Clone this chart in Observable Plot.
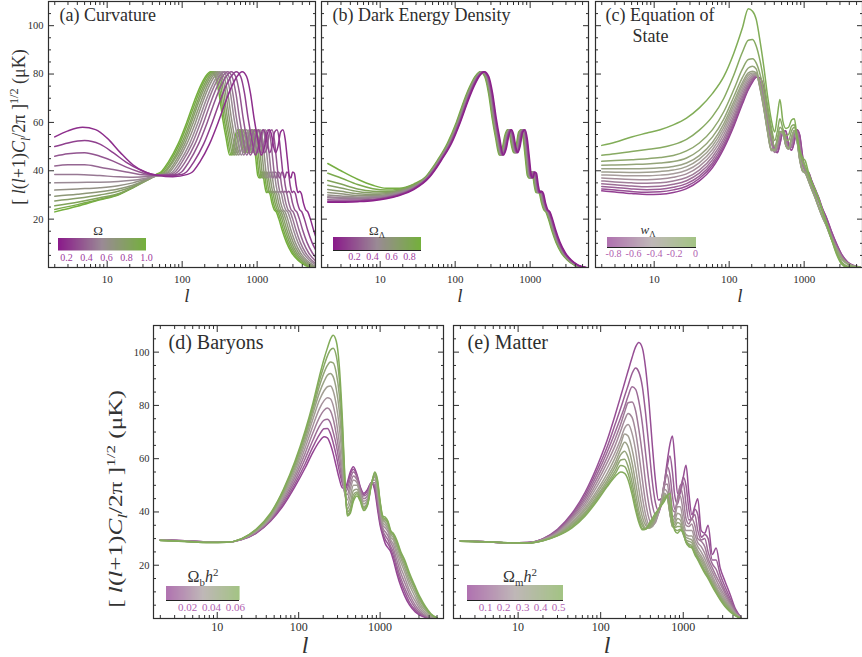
<!DOCTYPE html>
<html>
<head>
<meta charset="utf-8">
<script src="https://cdn.jsdelivr.net/npm/d3@7"></script>
<script src="https://cdn.jsdelivr.net/npm/@observablehq/plot@0.6"></script>
<style>
  html, body { margin: 0; padding: 0; background: #fff; }
  #root { position: relative; width: 862px; height: 657px; overflow: hidden; background: #fff;
          font-family: "Liberation Serif", "DejaVu Serif", "Noto Serif", Tinos, Times, serif; color: #333; }
  .abs { position: absolute; }
  .leg line { display: none; }
  .lab { position: absolute; white-space: nowrap; line-height: 1; transform: translate(-50%, -50%); }
  .rot { transform: translate(-50%, -50%) rotate(-90deg); }
  .rot2 { transform: translate(-50%, -50%) rotate(-90deg) scaleX(1.4); }
  .lab sub, .lab sup { font-size: 0.68em; line-height: 0; }
</style>
</head>
<body>
<div id="root"></div>
<script>
// ---------------- axis ticks / labels ----------------
const xMajor = [10, 100, 1000];
const xMajorLabels = ["10", "100", "1000"];
const xMinor = [2,3,4,5,6,7,8,9,20,30,40,50,60,70,80,90,200,300,400,500,600,700,800,900,2000,3000,4000,5000];
const yMajor = [20, 40, 60, 80, 100];
const yMajorLabels = ["20", "40", "60", "80", "100"];
const yMinor = [5,10,15,25,30,35,45,50,55,65,70,75,85,90,95,105];

// ---------------- (a) Curvature ----------------
const omegaA = [1.0, 0.93, 0.85, 0.78, 0.71, 0.64, 0.56, 0.49, 0.42, 0.35, 0.27, 0.2];
const lowA = [
  [[2,23],[4,25.3],[8,28],[14,30],[22,33],[35,37]],
  [[2,24],[4,26],[8,28.2],[14,30.2],[22,33],[35,36.5]],
  [[2,25.5],[4,27],[8,28.8],[14,30.5],[22,33],[35,36.2],[42,37.6]],
  [[2,27.5],[4,28.6],[8,30],[14,31.5],[22,33.5],[35,36.3],[44,37.8]],
  [[2,29.5],[4,30.3],[8,31.3],[14,32.5],[22,34],[35,36.5],[45,37.8]],
  [[2,32],[4,32.5],[8,33],[14,33.8],[22,35],[35,36.8],[45,37.8]],
  [[2,35],[4,35.2],[8,35.3],[14,35.6],[22,36.1],[35,37],[48,38]],
  [[2,38.5],[4,38.5],[8,38],[14,37.5],[22,37.3],[35,37.6],[50,38.2]],
  [[2,42],[3,42.5],[5,42.5],[8,41.5],[12,40.5],[18,39.5],[27,38.5],[40,38.2],[55,38.4]],
  [[2,46],[3,47],[5,47.5],[8,46],[12,44],[18,41.5],[27,39.5],[40,38.3],[60,38.3]],
  [[2,50],[3,51.5],[5,52.5],[8,51],[12,47.5],[18,43.5],[27,40.5],[40,38.5],[60,38]],
  [[2,54],[3,56.5],[4.7,58],[7,57],[10,53.5],[15,47.5],[22,42.5],[32,39.5],[48,38],[75,37.5]]
];
const highVA = [38.5,39.5,43.5,51,60,69,75,79,81,79,72,62,53.5,46.5,49,54.5,57,55,50,47.5,50,56,57,53,45,38,37,39.5,39,34,31,31.5,30.5,26.5,24,23,20,15.5,10.5,6,3,1,0];
const highLA = [
  [45,52,65,88,115,146,175,205,240,275,310,345,385,430,470,510,550,590,630,670,720,780,840,900,960,1020,1070,1130,1190,1260,1330,1400,1480,1580,1680,1800,1950,2150,2450,2900,3500,4300,5500],
  [47,54,68,92,120,153,183,214,251,287,324,361,402,449,491,533,575,617,658,700,752,815,878,941,1003,1066,1118,1181,1244,1317,1390,1463,1547,1651,1756,1881,2038,2247,2560,3031,3658,4494,5748],
  [50,57,72,97,127,161,193,226,264,303,341,380,424,473,517,561,605,649,693,737,792,858,924,990,1056,1122,1177,1243,1309,1386,1463,1540,1628,1738,1848,1980,2145,2365,2695,3190,3850,4730,6050],
  [52,60,75,102,133,169,203,238,278,319,360,400,447,499,545,592,638,684,731,777,835,905,974,1044,1114,1183,1241,1311,1380,1462,1543,1624,1717,1833,1949,2088,2262,2494,2842,3364,4060,4988,6380],
  [55,64,80,108,141,180,215,252,295,338,381,424,474,529,578,627,677,726,775,824,886,959,1033,1107,1181,1255,1316,1390,1464,1550,1636,1722,1820,1943,2066,2214,2399,2645,3014,3567,4305,5289,6765],
  [59,68,85,115,151,191,229,269,314,360,406,452,504,563,616,668,721,773,825,878,943,1022,1100,1179,1258,1336,1402,1480,1559,1651,1742,1834,1939,2070,2201,2358,2555,2817,3210,3799,4585,5633,7205],
  [64,74,92,125,163,207,249,291,341,391,440,490,547,611,667,724,781,838,895,951,1022,1108,1193,1278,1363,1448,1519,1605,1690,1789,1889,1988,2102,2244,2386,2556,2769,3053,3479,4118,4970,6106],
  [69,80,99,135,176,223,268,314,367,421,474,528,589,658,719,780,842,903,964,1025,1102,1193,1285,1377,1469,1561,1637,1729,1821,1928,2035,2142,2264,2417,2570,2754,2984,3290,3749,4437,5355,6579],
  [76,87,109,148,193,245,294,344,403,462,521,580,647,722,790,857,924,991,1058,1126,1210,1310,1411,1512,1613,1714,1798,1898,1999,2117,2234,2352,2486,2654,2822,3024,3276,3612,4116,4872,5880,7224],
  [85,98,122,165,216,274,329,385,451,517,583,649,724,808,884,959,1034,1109,1184,1260,1354,1466,1579,1692,1805,1918,2012,2124,2237,2369,2500,2632,2782,2970,3158,3384,3666,4042,4606,5452,6580],
  [99,114,142,193,252,320,383,449,526,602,679,756,843,942,1029,1117,1205,1292,1380,1467,1577,1708,1840,1971,2102,2234,2343,2475,2606,2759,2913,3066,3241,3460,3679,3942,4271,4709,5366,6351],
  [118,137,171,231,302,384,460,539,631,723,815,907,1013,1131,1236,1341,1447,1552,1657,1762,1894,2051,2209,2367,2525,2683,2814,2972,3130,3314,3498,3682,3892,4155,4418,4734,5129,5655,6444,7627]
];
const legendA = {domain: [0.12, 0.56, 1.0], ticks: [0.2,0.4,0.6,0.8,1.0], labels: ["0.2","0.4","0.6","0.8","1.0"]};

// ---------------- (b) Dark energy density ----------------
const omegaLB = [0.9, 0.84, 0.77, 0.7, 0.64, 0.58, 0.51, 0.45, 0.39, 0.26, 0.13, 0];
const lowB = [
  [[2,43],[3,40],[5,36.5],[8,34],[12,32.8],[18,32.8],[28,34.5]],
  [[2,39],[3,37],[5,34.3],[8,32.6],[12,32],[18,32.4],[28,34.2]],
  [[2,36],[3,34.5],[5,32.5],[8,31.5],[12,31.3],[18,32],[28,34]],
  [[2,34],[3,32.9],[5,31.4],[8,30.8],[12,30.9],[18,31.7],[28,33.7]],
  [[2,32.3],[3,31.5],[5,30.5],[8,30.2],[12,30.5],[18,31.5],[28,33.5]],
  [[2,31],[3,30.5],[5,29.8],[8,29.7],[12,30.1],[18,31.2],[28,33.3]],
  [[2,30],[3,29.6],[5,29.2],[8,29.3],[12,29.8],[18,31],[28,33.2]],
  [[2,29.3],[3,29],[5,28.8],[8,29],[12,29.5],[18,30.8],[28,33.1]],
  [[2,28.8],[3,28.6],[5,28.4],[8,28.7],[12,29.3],[18,30.6],[28,33]],
  [[2,28],[3,27.9],[5,27.9],[8,28.2],[12,29],[18,30.3],[28,32.7]],
  [[2,27.4],[3,27.4],[5,27.5],[8,27.9],[12,28.7],[18,30],[28,32.5]],
  [[2,27],[3,27],[5,27.2],[8,27.6],[12,28.4],[18,29.8],[28,32.2]]
];
const highVB = [37.5,40,44.5,51.5,60,69,75,79,81,79,72,62,53.5,46.5,49,54.5,57,55,50,47.5,50,56,57,53,45,38,37,39.5,39,34,31,31.5,30.5,26.5,24,23,20,15.5,10.5,6,3,1,0];
const highLB = [
  [40.5,46.8,58.5,79,103.5,131,157.5,184.5,216,247.5,279,310.5,346.5,387,423,459,495,531,567,603,648,702,756,810,864,918,963,1017,1071,1134,1197,1260,1332,1422,1512,1620,1755,1935,2205,2610,3150,3870,4950],
  [41.4,47.8,59.8,81,106,134,161,189,221,253,285,317,354,396,432,469,506,543,580,616,662,718,773,828,883,938,984,1040,1095,1159,1224,1288,1362,1454,1546,1656,1794,1978,2254,2668,3220,3956,5060],
  [42.3,48.9,61,82.7,108,137,164.5,193,226,259,291,324,362,404,442,479,517,555,592,630,677,733,790,846,902,959,1006,1062,1119,1184,1250,1316,1391,1485,1579,1692,1833,2021,2303,2726,3290,4042,5170],
  [43,49.7,62,84,110,139,167,196,229,263,296,329,368,411,449,487,525,563,602,640,688,745,802,860,917,974,1022,1079,1136,1203,1270,1337,1413,1509,1604,1719,1862,2053,2340,2770,3343,4107,5253],
  [43.7,50.4,63,85.4,112,142,170,199,233,267,301,335,373,417,456,495,534,572,611,650,698,757,815,873,931,989,1038,1096,1154,1222,1290,1358,1436,1533,1630,1746,1892,2086,2377,2813,3395,4171,5335],
  [44.3,51.2,64,86.7,113,144,172,202,236,271,305,340,379,424,463,502,542,581,621,660,709,768,827,887,946,1005,1054,1113,1172,1241,1310,1379,1458,1556,1655,1773,1921,2118,2413,2857,3448,4236,5418],
  [45,52,65,88,115,146,175,205,240,275,310,345,385,430,470,510,550,590,630,670,720,780,840,900,960,1020,1070,1130,1190,1260,1330,1400,1480,1580,1680,1800,1950,2150,2450,2900,3500,4300,5500],
  [46,53,66,90,117,149,179,209,245,281,316,352,393,439,479,520,561,602,643,683,734,796,857,918,979,1040,1091,1153,1214,1285,1357,1428,1510,1612,1714,1836,1989,2193,2499,2958,3570,4386,5610]
];
const highIdxB = [0, 1, 1, 2, 2, 3, 3, 4, 4, 5, 6, 7];
const legendB = {domain: [-0.03, 0.45, 0.93], ticks: [0.2,0.4,0.6,0.8], labels: ["0.2","0.4","0.6","0.8"]};

// ---------------- (c) Equation of state ----------------
const wC = [-0.84,-0.77,-0.70,-0.63,-0.56,-0.49,-0.42,-0.35,-0.28,-0.21,-0.14,-0.07,0];
const gridC = [2,3,5,8,12,18,27,40,60,85,115,150,180,205,230,260,290,325,365,405,440,475,520,570,620,680,740,800,870,950,1040,1140,1260,1400,1560,1750,2000,2300,2700,3200,3800,4600,5600];
const valsC = [
  [31.7,31.2,30.6,30.2,30.3,31,32.6,35.8,41.3,49.2,58.3,67.6,73.5,76.7,78.7,78.5,74,65.5,56,48.5,47.5,51,56,56.5,51,48.5,52,57,55,46.5,40,39.5,36,32.5,29,24.5,20.4,15.2,9.9,5.2,2.3,0.8,0.1],
  [32.5,32,31.4,31.1,31.3,32.1,33.6,36.8,42.3,50,59.2,68.4,74,77.1,78.8,78.3,73.6,65.2,55.8,48.6,47.6,51.3,56,56.3,50.6,48.6,52.4,57,54.6,46,39.9,39.3,35.8,32.3,28.8,24.4,20.2,15,9.7,5,2.2,0.7,0.1],
  [33.5,33.1,32.5,32.2,32.4,33.2,34.7,37.8,43.3,51,60.2,69.3,74.7,77.6,79,76.4,70.5,61,52.5,47.8,49.5,54,56.5,53.5,49.3,50,55.5,56.2,51,43,39.7,37.8,34.5,31,27.5,23.5,18.5,13.5,8.5,4.3,1.8,0.6,0.05],
  [34.6,34.2,33.7,33.4,33.6,34.4,35.9,39,44.5,52.2,61.3,70.3,75.5,78.2,79.3,76.5,70.8,61.5,52.8,47.9,49.3,53.8,56.4,53.8,49.4,49.8,55.2,56.4,51.4,43.4,39.8,38,34.7,31.2,27.7,23.6,18.7,13.7,8.7,4.5,1.9,0.6,0.05],
  [35.8,35.4,35,34.8,35,35.8,37.2,40.3,45.8,53.5,62.5,71.5,76.5,78.8,79.5,76,69.8,60.3,51.8,47.6,49.8,54.4,56.6,53.2,49.2,50.3,55.8,56,50.6,42.6,39.6,37.6,34.3,30.8,27.3,23.3,18.3,13.3,8.3,4.1,1.7,0.5,0],
  [37,36.7,36.4,36.3,36.6,37.3,38.7,41.8,47.3,55,64,72.8,77.5,79.3,79.7,74.5,66.5,57,48.8,48.3,52.3,56,55.6,50.7,49,53.3,56.6,53.3,45.3,40.2,39.1,36.2,32.6,29.1,25.1,21.1,17.1,12.1,7.6,3.6,1.5,0.5,0],
  [38.3,38.1,37.9,37.9,38.2,38.8,40.2,43.3,48.8,56.5,65.5,74,78.5,79.8,79.8,74,66,56.5,48.5,48.5,52.5,56,55.5,50.5,49,53.5,56.5,53,45,40,39,36,32.5,29,25,21,17,12,7.5,3.5,1.5,0.5,0],
  [39.5,39.4,39.3,39.4,39.7,40.3,41.7,44.8,50.3,58,67,75.3,79.5,80.4,80,73.5,65.5,56,48.3,48.7,52.8,56.1,55.3,50.3,49.1,53.8,56.4,52.6,44.6,39.9,38.8,35.8,32.3,28.8,24.8,20.8,16.8,11.8,7.3,3.4,1.4,0.4,0],
  [40.8,40.8,40.8,40.9,41.2,41.8,43.2,46.3,51.8,59.5,68.5,76.5,80.5,81.2,80.5,73.8,65.8,56.3,48.6,48.4,52.4,56,55.6,50.6,49,53.4,56.5,53.1,45.1,40.1,39,36.1,32.5,29,25,21,17,12,7.5,3.5,1.5,0.5,0],
  [42.3,42.4,42.6,42.8,43.2,43.8,45.3,48.5,54,61.5,70.5,78.5,82.5,83.2,82,74.5,66.5,57,49,48.6,52.6,56.2,55.8,50.8,49.2,53.6,56.7,53.2,45.4,40.3,39.2,36.3,32.7,29.2,25.2,21.2,17.2,12.2,7.7,3.7,1.6,0.5,0],
  [43.9,44.2,44.6,45,45.5,46.3,48.2,51.5,57,64.5,73.5,82,86,86.3,84.5,79.5,72.5,63.5,55,50,53.5,58,56.5,53,52.5,56.5,58,54.5,48,44,41,38.5,35,32,28.3,23.5,18.3,12.5,6.5,2.2,0.5,0,0],
  [46.4,47,48,48.8,49.5,50.8,53,56.8,62.5,70,79.5,89,94,94.3,91.5,85,77,67,58,52.5,56.5,61.5,57.5,54.5,55,58.5,59,54,48,44.5,42,38.5,35,32,28.3,23.5,18,12,6,1.8,0.3,0,0],
  [50.5,51.8,54,55.6,57,59,61.8,66,72,79,88.5,99,107,106,102.5,93,83,71,61,56,63,69.5,60.5,57.5,58,61,61.5,54.5,48.5,45.5,44,39.5,35.5,32,28.3,23.5,18,12,5.5,1.2,0,0,0]
];
const legendC = {domain: [-0.855, -0.4225, 0.01], ticks: [-0.8,-0.6,-0.4,-0.2,0], labels: ["-0.8","-0.6","-0.4","-0.2","0"]};

// ---------------- (d) Baryons ----------------
const bD = [0.005,0.011,0.018,0.024,0.030,0.037,0.043,0.049,0.056,0.062];
const gridD = [2,4,8,13,20,30,45,65,90,120,150,180,205,225,245,265,290,315,345,370,395,430,470,520,570,630,700,780,860,930,1000,1080,1160,1250,1350,1450,1600,1800,2000,2300,2700,3100,3600,4200,5000];
const valsD = [
  [29.6,29.2,28.7,28.6,29.6,32,36.5,42.5,49.5,56.5,62.5,66.5,68.2,67.8,65.5,62,57,52.5,49,49,51,55,57,54,49.5,47,48.5,51,48,41,35,31,28,26.5,25,22,17,12,8.5,5,2.5,1.2,0.4,0,0],
  [29.6,29.2,28.7,28.6,29.6,32.1,36.8,43.2,50.5,58,64.5,69,71.2,71.3,69.5,66,61,55.5,50.5,48.5,50,54,56,53.5,49,46.5,48,51,49,42.5,36,32,29.5,28,26,23.5,18.5,13.5,10,6,3.2,1.6,0.6,0.1,0],
  [29.5,29.1,28.7,28.6,29.7,32.3,37.1,44,51.7,60,67,72.2,74.5,74.8,73.5,70,65,58.5,51.5,47.5,48.5,52.5,55,53,48.5,46,47,51,50,44,37.5,33,31,29.5,27,25,20,15,11.5,7.5,4,2,0.8,0.2,0],
  [29.5,29.1,28.6,28.6,29.7,32.5,37.4,44.8,53,62,69.8,75.5,78.2,79,78,75,69,62,53,47,46.5,50.5,53.5,52,48,45,46,51,51,45.5,39,34,32.5,31,28.5,26.5,22,17,13.5,9,5,2.6,1.1,0.3,0],
  [29.5,29.1,28.6,28.6,29.8,32.7,37.7,45.6,54.2,64,72.5,78.8,81.8,82.9,82.5,80,74,66,55,46.5,44.5,48.5,52,51,47,44,45,51,52,47,40.5,35,34,32.5,29.5,28,24,19,15.5,10.5,6.5,3.5,1.6,0.5,0],
  [29.4,29,28.6,28.6,29.8,32.9,38,46.4,55.5,65.8,75,82,85.5,87,87.3,85.5,80,72,59,47,42.5,46,50,50,46.5,43,44.5,50.5,53,48.5,41.5,36,35,33.5,30.5,29.5,25.5,21,17.5,12.5,8,4.5,2.2,0.8,0],
  [29.4,29,28.6,28.6,29.9,33.1,38.5,47,56.5,67.3,77,84.8,89,91.3,92,90.8,86,78,63,48.5,41,43.5,48,48.5,45.5,42,43.5,50.5,53.5,49.5,42.5,37,36,34.5,31.5,30.5,27,22.5,19,14,9.5,5.5,3,1.1,0.1],
  [29.4,29,28.5,28.6,29.9,33.2,38.8,47.6,57.5,68.5,78.5,87.3,92.3,95,96.3,96,92,84,67,50,40,41.5,46.5,47.5,45,41.5,43,50.5,54,50.5,43,37.5,36.8,35.5,32,31.2,28,23.5,20.3,15.3,10.7,6.6,3.6,1.4,0.2],
  [29.3,28.9,28.5,28.6,30,33.4,39.2,48.1,58.3,69.5,79.8,89.3,95,98.5,100.8,101.5,98.5,90,71,51,39,40.3,45,46.8,44.5,41,42.8,50.2,54.5,51.3,43.5,38,37.4,36,32.5,31.6,28.8,24.3,21.2,16.2,11.4,7.3,4.1,1.6,0.25],
  [29.3,28.9,28.5,28.6,30,33.5,39.5,48.5,59,70.5,81,91,97.5,101.5,104.8,106.3,104,95,74,52,38.5,39.5,44,46,44,40.5,42.5,50,55,52,44,38.5,38,36.5,33,32,29.5,25,22,17,12,8,4.5,1.8,0.3]
];
const legendD = {domain: [0.0026, 0.0331, 0.0636], ticks: [0.02,0.04,0.06], labels: ["0.02","0.04","0.06"]};

// ---------------- (e) Matter ----------------
const mE = [0.05,0.09,0.13,0.17,0.21,0.25,0.30,0.34,0.38,0.42,0.46,0.50];
const gridE = [2,4,8,13,20,30,45,65,90,120,150,175,195,215,240,265,290,320,350,385,420,460,500,545,590,640,690,740,790,850,920,1000,1080,1170,1270,1380,1500,1650,1820,2000,2250,2500,2800,3200,3700,4300,5000];
const valsE = [
  [29.2,28.8,28.4,28.5,30,33.5,39.5,47.5,57,67,76.5,83.5,88.5,93,98,102,103.6,101.5,94,81,66,52,44.5,45,51,59,65.5,68.5,60,47,47,53,57.5,47,39,42,45,33,32,35,24,26.5,19,14,9,3.5,0.5],
  [29.2,28.8,28.4,28.5,29.9,33.2,39,46.5,55.5,64.5,73,79,83.5,87.5,92,94,92.5,87,77,64,52,43.5,40.5,43,49.5,57,61,55,46,43,47.5,53,50,41,37,41,39,30.5,31.5,30,22,22,16.5,12,7.5,3,0.4],
  [29.2,28.8,28.4,28.5,29.8,32.9,38.5,45.5,54,62.5,70,75.5,79.5,83.5,87,86,81.5,73,62,51,43,39,39.5,43.5,50.5,57,54,46,41,44,50,51,43,37,37.5,39,33,29.5,30,25,20.5,18.5,14.5,10.5,6.5,2.6,0.3],
  [29.2,28.8,28.4,28.4,29.7,32.6,38,44.5,52.5,60.5,67.5,73,77.5,81,81.3,78,71,61.5,51,42.5,37.5,37,39.5,44.5,51,54,48,41,40,45,49.5,45,37.5,35.5,37.5,35,30,29,27,22.5,19,16,13,9.5,5.8,2.3,0.3],
  [29.2,28.8,28.4,28.4,29.6,32.3,37.5,43.5,51,58.5,65,70.5,74.5,77,75.5,70,62,52,43.5,37.5,35,36,39.5,44.5,50,50.5,43.5,38,39,44,46,40,35,34.5,35.5,31.5,28.5,27,24.5,21,17.5,14.5,11.5,8.5,5.2,2,0.2],
  [29.1,28.8,28.4,28.4,29.6,32,37,42.5,49.5,56.5,62.5,67.5,71.5,72.8,69.5,63,54.5,45.5,39,35,34.5,36.5,40,44.5,48.5,47.5,40.5,36.5,38,42,42,36.5,33,33,33,29.5,27,25,22.5,19.5,16,13,10.5,7.5,4.6,1.8,0.2],
  [29.1,28.8,28.4,28.4,29.5,31.8,36.3,41.6,48,54.5,60.5,65.5,69.3,68.5,63.5,56.5,48.5,41,36.5,34,34.5,37,40.3,44,47,45.5,39.5,35.5,36.5,39.5,39,34.5,31.5,31,31,28,25.5,23.5,21,18,15,12,9.5,6.8,4.1,1.6,0.1],
  [29.1,28.8,28.4,28.4,29.4,31.6,35.8,40.8,47,53,58.5,63.5,66.2,64.5,58.5,51,44,38,35,34,35,37.5,40.5,43.5,46.5,45.5,39.5,35,35.5,37.5,37,33,30.5,30,29.5,27,24.5,22.5,20,17,14,11.3,8.8,6.2,3.8,1.5,0.1],
  [29.1,28.8,28.4,28.4,29.4,31.4,35.3,40,46,51.8,57,61.5,62.8,60.5,54.5,47,40.5,36,34,34,35.3,37.8,40.7,43.3,46,45.8,39.5,34.5,34.5,36,35.5,32,29.5,29,28.5,26,23.5,21.5,19,16.5,13.5,10.8,8.3,5.8,3.5,1.4,0.1],
  [29,28.8,28.4,28.3,29.3,31.3,34.9,39.5,45.3,50.8,55.5,59.5,59.8,57,51,44,38.5,34.8,33.7,34.3,36,38.3,40.8,43,45.3,46,40,34.5,34,34.5,34.5,31.5,29,28,27.5,25,23,20.5,18,16,13,10.3,7.8,5.3,3.1,1.2,0],
  [29,28.8,28.4,28.3,29.2,31.1,34.4,39,44.6,50,54.3,57.4,57,54.3,48.5,42,37,33.8,33.5,34.8,36.7,38.8,40.8,42.8,44.7,46.3,42,35.5,33.5,33,33.5,32,28.7,27.5,27,24.5,22.5,20,17.5,15.5,12.5,9.9,7.4,4.9,2.8,1.1,0],
  [29,28.8,28.4,28.3,29.2,31,34,38.5,44,49.5,53.3,55,54.5,52,46.5,40.5,36,33.3,33.5,35.5,37.5,39.5,41,42.5,44,46,47,38,33,32,33,32.5,28.5,27,26.5,24,22,19.5,17,15,12,9.5,7,4.5,2.5,1,0]
];
const legendE = {domain: [0, 0.2635, 0.527], ticks: [0.1,0.2,0.3,0.4,0.5], labels: ["0.1","0.2","0.3","0.4","0.5"]};

// ---------------- colours ----------------
const rangeDark = ["#8a1a8a", "#9a8a95", "#74b03c"];
const rangeSoft = ["#923c92", "#a79c9c", "#80ad55"];

// ---------------- helpers ----------------
const root = document.getElementById("root");
const X_DOMAIN = [1.65, 6000];
const Y_DOMAIN = [0, 110];
const INK = "#2e2e2e";
const FONT = '"Liberation Serif", "DejaVu Serif", "Noto Serif", Tinos, Times, serif';

function rowsShared(lowList, lList, vShared, params, idx) {
  const rows = [];
  params.forEach((p, i) => {
    lowList[i].forEach(([l, v]) => rows.push({k: i, p, l, v}));
    lList[idx ? idx[i] : i].forEach((l, j) => rows.push({k: i, p, l, v: vShared[j]}));
  });
  return rows;
}
function rowsGrid(grid, vals, params) {
  const rows = [];
  params.forEach((p, i) => grid.forEach((l, j) => rows.push({k: i, p, l, v: vals[i][j]})));
  return rows;
}

function tickAxes() {
  const c = {fill: "none", label: null, stroke: INK, strokeWidth: 1};
  return [
    Plot.axisX({...c, anchor: "bottom", ticks: xMajor, tickSize: -6}),
    Plot.axisX({...c, anchor: "bottom", ticks: xMinor, tickSize: -3}),
    Plot.axisX({...c, anchor: "top", ticks: xMajor, tickSize: -6}),
    Plot.axisX({...c, anchor: "top", ticks: xMinor, tickSize: -3}),
    Plot.axisY({...c, anchor: "left", ticks: yMajor, tickSize: -6}),
    Plot.axisY({...c, anchor: "left", ticks: yMinor, tickSize: -3}),
    Plot.axisY({...c, anchor: "right", ticks: yMajor, tickSize: -6}),
    Plot.axisY({...c, anchor: "right", ticks: yMinor, tickSize: -3})
  ];
}

function panel(cfg) {
  const mL = 44, mR = 6, mT = 6, mB = 36;
  const [x0, y0, x1, y1] = cfg.frame;
  const marks = [
    Plot.line(cfg.rows, {x: "l", y: "v", z: "k", stroke: "p", strokeWidth: 1.5, curve: "monotone-x", clip: true}),
    Plot.frame({stroke: INK, strokeWidth: 1.2}),
    ...tickAxes(),
    Plot.axisX({anchor: "bottom", ticks: xMajor, tickSize: 0, tickPadding: cfg.xPad, fontSize: cfg.tickFont,
      tickFormat: d => xMajorLabels[xMajor.indexOf(d)], label: null, fill: INK})
  ];
  if (cfg.yAxis) marks.push(Plot.axisY({anchor: "left", ticks: yMajor, tickSize: 0, tickPadding: cfg.yPad, fontSize: cfg.yTickFont,
      tickFormat: d => yMajorLabels[yMajor.indexOf(d)], label: null, fill: INK}));
  cfg.titles.forEach(t => marks.push(Plot.text([t.text], {frameAnchor: "top-left", dx: t.dx, dy: t.dy,
      lineAnchor: "top", textAnchor: "start", fontSize: cfg.titleFont, fontFamily: FONT, fill: INK})));
  const svg = Plot.plot({
    width: x1 - x0 + mL + mR, height: y1 - y0 + mT + mB,
    marginLeft: mL, marginRight: mR, marginTop: mT, marginBottom: mB,
    x: {type: "log", domain: X_DOMAIN},
    y: {domain: Y_DOMAIN},
    color: {type: "linear", domain: cfg.legend.domain, range: cfg.range},
    style: {background: "none", fontFamily: FONT, overflow: "visible", maxWidth: "none"},
    marks
  });
  svg.style.fontFamily = FONT;
  const d = document.createElement("div");
  d.className = "abs";
  d.style.left = (x0 - mL) + "px";
  d.style.top = (y0 - mT) + "px";
  d.appendChild(svg);
  root.appendChild(d);
}

function legend(cfg) {
  const L = cfg.legend;
  const svg = Plot.legend({
    color: {type: "linear", domain: L.domain, range: cfg.range},
    width: cfg.w, height: cfg.h + 16, marginTop: 0, marginBottom: 16, marginLeft: 0, marginRight: 0,
    ticks: L.ticks, tickFormat: d => L.labels[L.ticks.indexOf(d)], tickSize: 0,
    opacity: cfg.opacity,
    style: {fontFamily: FONT, fontSize: cfg.font + "px", color: cfg.textColor, overflow: "visible", background: "none"}
  });
  svg.style.fontFamily = FONT;
  const d = document.createElement("div");
  d.className = "abs leg";
  d.style.left = cfg.x + "px";
  d.style.top = cfg.y + "px";
  d.appendChild(svg);
  root.appendChild(d);
  if (cfg.baseline) {
    const b = document.createElement("div");
    b.className = "abs";
    Object.assign(b.style, {left: cfg.x + "px", top: (cfg.y + cfg.h) + "px", width: cfg.w + "px", height: "1px", background: "#222"});
    root.appendChild(b);
  }
}

function label(html, x, y, size, extra) {
  const d = document.createElement("div");
  d.className = "lab" + (extra ? " " + extra : "");
  d.innerHTML = html;
  Object.assign(d.style, {left: x + "px", top: y + "px", fontSize: size + "px", color: "#333", fontFamily: FONT});
  root.appendChild(d);
}

panel({frame: [48, 1, 315, 267], rows: rowsShared(lowA, highLA, highVA, omegaA), legend: legendA, range: rangeDark,
  xPad: 8, tickFont: 11, yAxis: true, yPad: 5, yTickFont: 10.5, titleFont: 18,
  titles: [{text: "(a) Curvature", dx: 11, dy: 7}]});
panel({frame: [321, 1, 588, 267], rows: rowsShared(lowB, highLB, highVB, omegaLB, highIdxB), legend: legendB, range: rangeDark,
  xPad: 8, tickFont: 11, titleFont: 18,
  titles: [{text: "(b) Dark Energy Density", dx: 11, dy: 7}]});
panel({frame: [595, 1, 862, 267], rows: rowsGrid(gridC, valsC, wC), legend: legendC, range: rangeSoft,
  xPad: 8, tickFont: 11, titleFont: 18,
  titles: [{text: "(c) Equation of", dx: 10, dy: 7}, {text: "State", dx: 37, dy: 28}]});
panel({frame: [153, 325, 443, 618], rows: rowsGrid(gridD, valsD, bD), legend: legendD, range: rangeSoft,
  xPad: 4, tickFont: 12, yAxis: true, yPad: 4, yTickFont: 10.5, titleFont: 20,
  titles: [{text: "(d) Baryons", dx: 15, dy: 9}]});
panel({frame: [453, 325, 747, 618], rows: rowsGrid(gridE, valsE, mE), legend: legendE, range: rangeSoft,
  xPad: 4, tickFont: 12, titleFont: 20,
  titles: [{text: "(e) Matter", dx: 14, dy: 9}]});

legend({legend: legendA, range: rangeDark, x: 57.5, y: 237.5, w: 88, h: 12.5, font: 10, textColor: "#a03ca0", opacity: 1});
legend({legend: legendB, range: rangeDark, x: 332.7, y: 237.3, w: 88, h: 13, font: 10, textColor: "#a03ca0", opacity: 1, baseline: true});
legend({legend: legendC, range: rangeSoft, x: 606.7, y: 237.3, w: 89, h: 10, font: 10, textColor: "#b060b0", opacity: 0.72, baseline: true});
legend({legend: legendD, range: rangeSoft, x: 165.7, y: 586, w: 73.6, h: 14, font: 11, textColor: "#b060b0", opacity: 0.72, baseline: true});
legend({legend: legendE, range: rangeSoft, x: 467, y: 585, w: 96, h: 15, font: 11, textColor: "#b060b0", opacity: 0.72, baseline: true});

const yLab = '[ <i>l</i>(<i>l</i>+1)<i>C<sub>l</sub></i>/2π ]<sup>1/2</sup> (μK)';
label(yLab, 18.5, 127, 18, "rot");
label(yLab, 115.5, 499, 18, "rot2");
label("<i>l</i>", 187, 295, 19);
label("<i>l</i>", 460, 295, 19);
label("<i>l</i>", 740, 295, 19);
label("<i>l</i>", 305, 645, 24);
label("<i>l</i>", 607, 645, 24);
label("Ω", 98, 230, 13);
label("Ω<sub>Λ</sub>", 377, 229.5, 13);
label("<i>w</i><sub>Λ</sub>", 648, 229, 13);
label("Ω<sub>b</sub><i>h</i><sup>2</sup>", 203, 577, 16);
label("Ω<sub>m</sub><i>h</i><sup>2</sup>", 520, 577, 16);
</script>
</body>
</html>
